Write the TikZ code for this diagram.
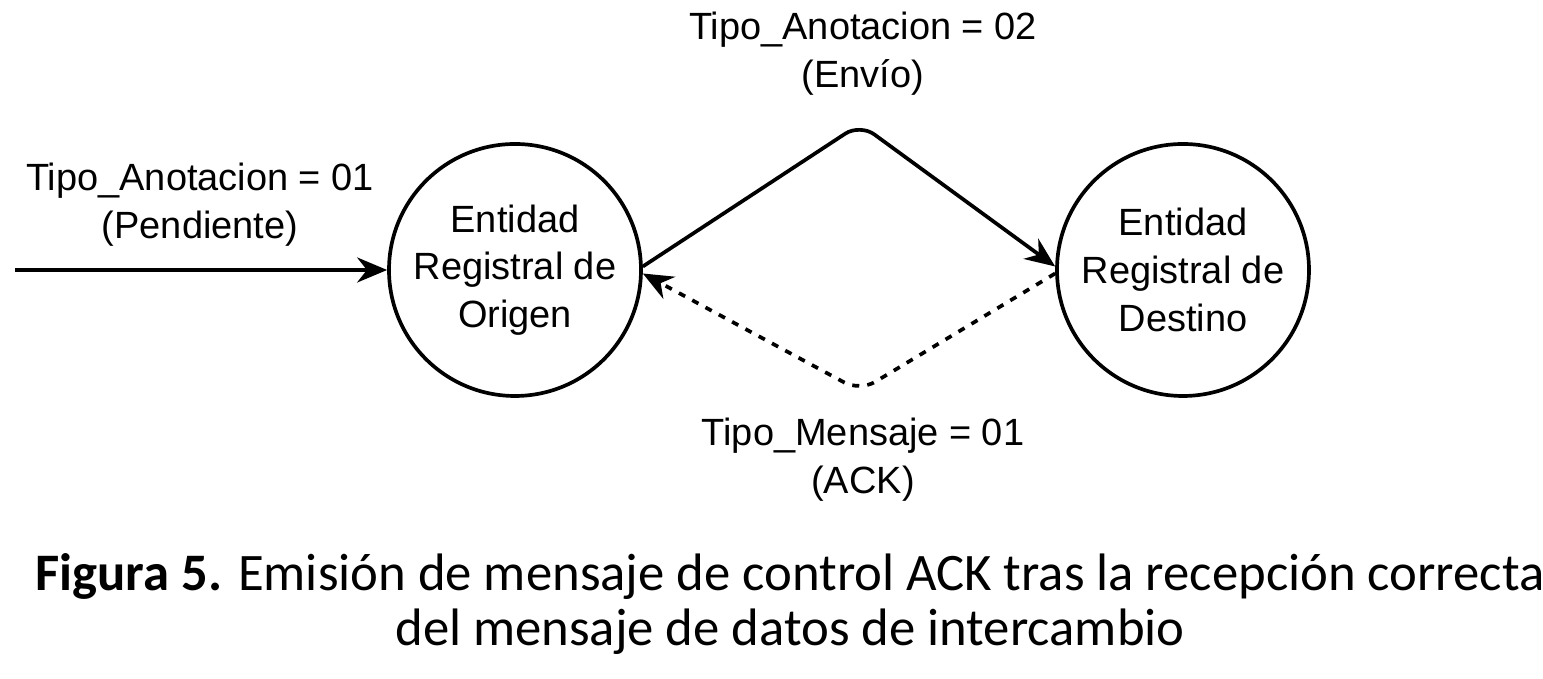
\documentclass[tikz,border=0pt]{standalone}
\usepackage{fontspec}
\setmainfont{Liberation Sans}
\newfontfamily\captionfont{Carlito}
\usetikzlibrary{arrows.meta,positioning}

\begin{document}
\begin{tikzpicture}[
  every node/.style={font=\fontsize{10.8}{13.6}\selectfont},
  >={Stealth[length=3mm,width=2.5mm]},
  entidad/.style={draw,circle,line width=1.05pt,minimum size=2.52cm,
                  inner sep=0pt,align=center},
  etiqueta/.style={align=center},
  flujo/.style={->,line width=1.05pt,rounded corners=5pt},
  ack/.style={->,line width=1.05pt,rounded corners=5pt,
              dash pattern=on 2pt off 2.3pt}
]
\useasboundingbox (0,0) rectangle (15.43,6.79);

\node[entidad] (O) at (5.15,4.09) {Entidad\\Registral de\\Origen};
\node[entidad] (D) at (11.83,4.09) {Entidad\\Registral de\\Destino};

\coordinate (In)   at (0.15,4.09);
\coordinate (Arr)  at (8.60,5.55);
\coordinate (Abj)  at (8.60,2.88);

\node[etiqueta] (L1) at (2.00,4.74) {Tipo\_Anotacion = 01\\(Pendiente)};
\node[etiqueta] (L2) at (8.63,6.25) {Tipo\_Anotacion = 02\\(Envío)};
\node[etiqueta] (L3) at (8.63,2.19) {Tipo\_Mensaje = 01\\(ACK)};

\draw[flujo] (In) -- (O.west);
\draw[flujo] ([yshift=1pt]O.east) -- (Arr) -- ([yshift=1pt]D.west);
\draw[ack]   ([yshift=-1pt]D.west) -- (Abj) -- ([yshift=-1pt]O.east);

\node[align=center,font=\captionfont\fontsize{15}{15.6}\selectfont] (C)
  at (7.90,0.75) {\textbf{Figura 5.} Emisión de mensaje de control ACK tras la recepción correcta\\
  del mensaje de datos de intercambio};
\end{tikzpicture}
\end{document}
